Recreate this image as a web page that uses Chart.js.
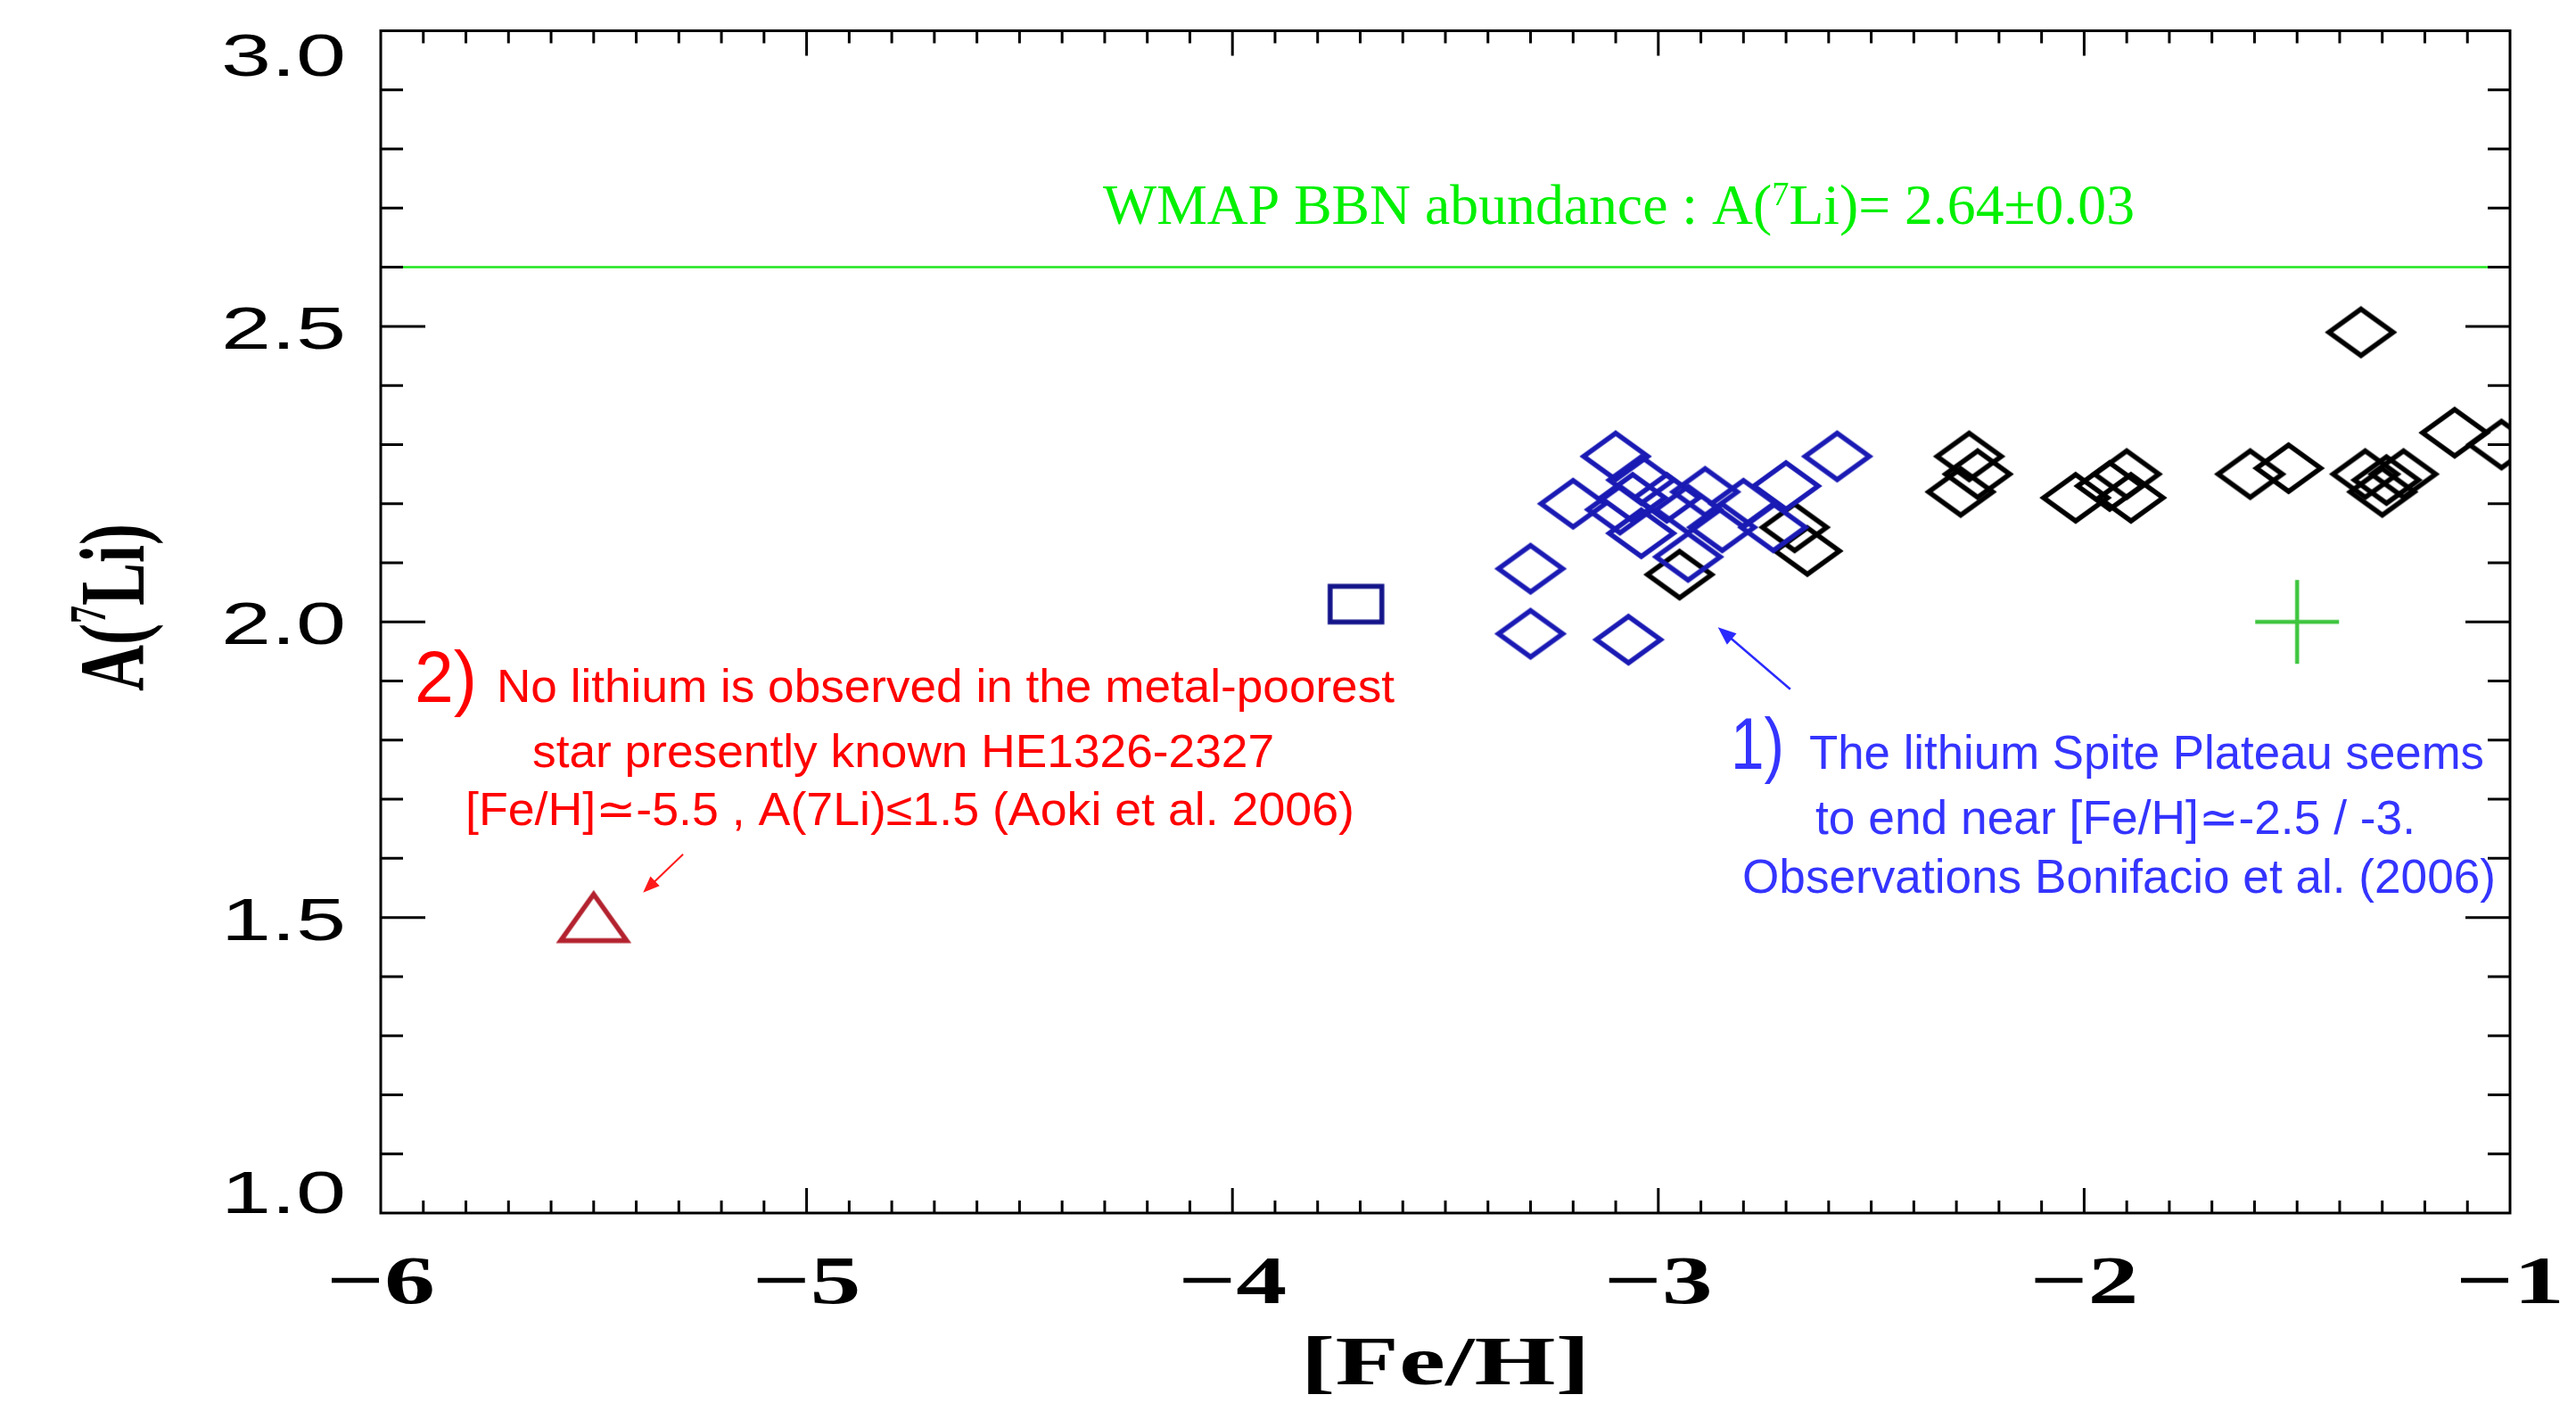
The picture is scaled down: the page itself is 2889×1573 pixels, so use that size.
<!DOCTYPE html>
<html>
<head>
<meta charset="utf-8">
<script src="https://cdn.jsdelivr.net/npm/chart.js@4.4.1/dist/chart.umd.min.js"></script>
<style>
    html, body { margin: 0; padding: 0; background: #fff; }
    canvas { display: block; }
</style>
</head>
<body>
<canvas id="chart" width="2889" height="1573"></canvas>
<script>
// Bonifacio et al. (2006) stars, [Fe/H] and A(7Li)
const bonifacioFeH = [-3.30, -3.30, -3.07, -3.20, -3.10, -2.58, -2.70, -3.04, -3.09, -3.04, -2.98, -2.89, -2.93, -2.85, -2.93, -2.73, -2.80, -3.06];
const bonifacioLi  = [ 2.09,  1.98,  1.97,  2.20,  2.28,  2.28,  2.23,  2.24,  2.19,  2.15,  2.21,  2.22,  2.19,  2.16,  2.11,  2.16,  2.20,  2.21];

// Spite plateau stars (black)
const plateauFeH = [-2.95, -2.65, -2.68, -2.27, -2.25, -2.29, -2.02, -1.94, -1.90, -1.89, -1.61, -1.52, -1.34, -1.30, -1.25, -1.29, -1.35, -1.13, -1.02];
const plateauLi  = [ 2.08,  2.12,  2.16,  2.28,  2.25,  2.22,  2.21,  2.23,  2.25,  2.21,  2.25,  2.26,  2.25,  2.22,  2.25,  2.24,  2.49,  2.32,  2.30];

const squareFeH = [-3.71];
const squareLi = [2.03];
const he1326FeH = [-5.50];
const he1326Li = [1.50];
const crossFeH = [-1.50];
const crossLi = [2.00];

// WMAP BBN level as drawn
const bbnFeH = [-6, -1];
const bbnLi = [2.6, 2.6];

const xTicks = [-6, -5, -4, -3, -2, -1];
const xTickLabels = ['\u22126', '\u22125', '\u22124', '\u22123', '\u22122', '\u22121'];
const yTicks = [1.0, 1.5, 2.0, 2.5, 3.0];
const yTickLabels = ['1.0', '1.5', '2.0', '2.5', '3.0'];

// annotation arrows: [fromFeH, fromLi, toFeH, toLi]
const blueArrow = [-2.69, 1.886, -2.86, 1.991];
const redArrow = [-5.29, 1.607, -5.384, 1.542];

const pts = (xs, ys) => xs.map((v, i) => ({ x: v, y: ys[i] }));

// marker sprites (hollow, slightly wide like the original plot)
function sprite(w, h, draw) {
    const c = document.createElement('canvas');
    c.width = w;
    c.height = h;
    draw(c.getContext('2d'), w / 2, h / 2);
    return c;
}
function diamond(color) {
    return sprite(92, 68, (g, cx, cy) => {
        g.strokeStyle = color;
        g.lineWidth = 5.5;
        g.beginPath();
        g.moveTo(cx, cy - 26);
        g.lineTo(cx + 36, cy);
        g.lineTo(cx, cy + 26);
        g.lineTo(cx - 36, cy);
        g.closePath();
        g.stroke();
    });
}
const squareMark = sprite(72, 54, (g, cx, cy) => {
    g.strokeStyle = '#14148a';
    g.lineWidth = 5.5;
    g.strokeRect(cx - 29, cy - 20, 58, 40);
});
const triangleMark = sprite(92, 72, (g, cx, cy) => {
    g.strokeStyle = '#b3222e';
    g.lineWidth = 5.5;
    g.beginPath();
    g.moveTo(cx, cy - 26);
    g.lineTo(cx + 37, cy + 26);
    g.lineTo(cx - 37, cy + 26);
    g.closePath();
    g.stroke();
});
const crossMark = sprite(100, 100, (g, cx, cy) => {
    g.strokeStyle = '#3ec53e';
    g.lineWidth = 4.5;
    g.beginPath();
    g.moveTo(cx - 47, cy);
    g.lineTo(cx + 47, cy);
    g.moveTo(cx, cy - 47);
    g.lineTo(cx, cy + 47);
    g.stroke();
});

// draw a run of [text, font, raise] pieces, squeezed/stretched to a target width
function drawRich(ctx, pieces, color, x, y, width, align) {
    let total = 0;
    pieces.forEach(p => { ctx.font = p[1]; total += ctx.measureText(p[0]).width; });
    const sx = width ? width / total : 1;
    ctx.save();
    ctx.fillStyle = color;
    ctx.textBaseline = 'alphabetic';
    ctx.textAlign = 'left';
    ctx.translate(x, y);
    ctx.scale(sx, 1);
    let cur = align === 'center' ? -total / 2 : 0;
    pieces.forEach(p => {
        ctx.font = p[1];
        ctx.fillText(p[0], cur, -(p[2] || 0));
        cur += ctx.measureText(p[0]).width;
    });
    ctx.restore();
}

function arrow(ctx, x, y, a, color, width, head) {
    const x0 = x.getPixelForValue(a[0]), y0 = y.getPixelForValue(a[1]);
    const x1 = x.getPixelForValue(a[2]), y1 = y.getPixelForValue(a[3]);
    const ang = Math.atan2(y1 - y0, x1 - x0);
    ctx.save();
    ctx.strokeStyle = color;
    ctx.fillStyle = color;
    ctx.lineWidth = width;
    ctx.beginPath();
    ctx.moveTo(x0, y0);
    ctx.lineTo(x1 - Math.cos(ang) * head * 0.6, y1 - Math.sin(ang) * head * 0.6);
    ctx.stroke();
    ctx.beginPath();
    ctx.moveTo(x1, y1);
    ctx.lineTo(x1 - head * Math.cos(ang - 0.38), y1 - head * Math.sin(ang - 0.38));
    ctx.lineTo(x1 - head * Math.cos(ang + 0.38), y1 - head * Math.sin(ang + 0.38));
    ctx.closePath();
    ctx.fill();
    ctx.restore();
}

const SANS = '"Liberation Sans", "DejaVu Sans", sans-serif';
const SERIF = '"Liberation Serif", "DejaVu Serif", serif';

// IDL style box: frame, inward ticks on all four sides, labels
const idlFrame = {
    id: 'idlFrame',
    beforeDraw(chart) {
        const { ctx, width, height } = chart;
        ctx.save();
        ctx.fillStyle = '#fff';
        ctx.fillRect(0, 0, width, height);
        ctx.restore();
    },
    afterDatasetsDraw(chart) {
        const { ctx, chartArea: a, scales: { x, y } } = chart;
        ctx.save();
        ctx.strokeStyle = '#000';
        ctx.lineWidth = 3;
        ctx.strokeRect(a.left, a.top, a.right - a.left, a.bottom - a.top);

        ctx.beginPath();
        const nx = Math.round((x.max - x.min) / 0.1);
        for (let i = 1; i < nx; i++) {
            const px = x.getPixelForValue(x.min + i * 0.1);
            const len = i % 10 === 0 ? 28 : 14;
            ctx.moveTo(px, a.bottom); ctx.lineTo(px, a.bottom - len);
            ctx.moveTo(px, a.top); ctx.lineTo(px, a.top + len);
        }
        const ny = Math.round((y.max - y.min) / 0.1);
        for (let i = 1; i < ny; i++) {
            const py = y.getPixelForValue(y.min + i * 0.1);
            const len = i % 5 === 0 ? 50 : 25;
            ctx.moveTo(a.left, py); ctx.lineTo(a.left + len, py);
            ctx.moveTo(a.right, py); ctx.lineTo(a.right - len, py);
        }
        ctx.stroke();
        ctx.restore();

        arrow(ctx, x, y, blueArrow, '#2a2aff', 2.5, 22);
        arrow(ctx, x, y, redArrow, '#ff1a1a', 2, 20);
    },
    afterDraw(chart) {
        const { ctx, chartArea: a, scales: { x, y } } = chart;

        // x tick labels, bold serif, widened
        xTicks.forEach((v, i) => {
            const px = x.getPixelForValue(v);
            ctx.save();
            ctx.translate(px, 1461);
            ctx.scale(1.48, 1);
            ctx.font = `bold 77px ${SERIF}`;
            ctx.fillStyle = '#000';
            ctx.textAlign = 'center';
            ctx.fillText(xTickLabels[i], 0, 0);
            ctx.restore();
        });

        // y tick labels, wide sans
        ctx.save();
        ctx.font = `66px ${SANS}`;
        const ysx = 140 / ctx.measureText('2.0').width;
        ctx.restore();
        yTicks.forEach((v, i) => {
            const py = y.getPixelForValue(v);
            const base = Math.min(Math.max(py + 25, a.top + 50), a.bottom);
            ctx.save();
            ctx.translate(388, base);
            ctx.scale(ysx, 1);
            ctx.font = `66px ${SANS}`;
            ctx.fillStyle = '#000';
            ctx.textAlign = 'right';
            ctx.fillText(yTickLabels[i], 0, 0);
            ctx.restore();
        });

        // axis titles
        ctx.save();
        ctx.translate((a.left + a.right) / 2, 1552);
        ctx.scale(1.5, 1);
        ctx.font = `bold 78px ${SERIF}`;
        ctx.fillStyle = '#000';
        ctx.textAlign = 'center';
        ctx.fillText('[Fe/H]', 0, 0);
        ctx.restore();

        ctx.save();
        ctx.translate(161, 681);
        ctx.scale(1.45, 1);
        ctx.rotate(-Math.PI / 2);
        drawRich(ctx, [
            ['A(', `bold 72px ${SERIF}`],
            ['7', `bold 40px ${SERIF}`, 30],
            ['Li)', `bold 72px ${SERIF}`],
        ], '#000', 0, 0, 0, 'center');
        ctx.restore();

        // WMAP label
        drawRich(ctx, [
            ['WMAP BBN abundance : A(', `63px ${SERIF}`],
            ['7', `38px ${SERIF}`, 21],
            ['Li)= 2.64\u00b10.03', `63px ${SERIF}`],
        ], '#00f000', 1237, 251, 1157);

        // 2) note, red
        drawRich(ctx, [['2)', `82px ${SANS}`]], '#ff0000', 465, 787, 70);
        drawRich(ctx, [['No lithium is observed in the metal-poorest', `52px ${SANS}`]], '#ff0000', 557, 787, 1007);
        drawRich(ctx, [['star presently known HE1326-2327', `52px ${SANS}`]], '#ff0000', 597, 860, 832);
        drawRich(ctx, [['[Fe/H]\u2243-5.5 , A(7Li)\u22641.5 (Aoki et al. 2006)', `52px ${SANS}`]], '#ff0000', 522, 925, 997);

        // 1) note, blue
        drawRich(ctx, [['1)', `82px ${SANS}`]], '#3434ff', 1941, 862, 60);
        drawRich(ctx, [['The lithium Spite Plateau seems', `54px ${SANS}`]], '#3434ff', 2029, 862, 757);
        drawRich(ctx, [['to end near [Fe/H]\u2243-2.5 / -3.', `54px ${SANS}`]], '#3434ff', 2036, 935, 673);
        drawRich(ctx, [['Observations Bonifacio et al. (2006)', `54px ${SANS}`]], '#3434ff', 1954, 1001, 845);
    },
};

const blueDiamond = diamond('#1a1ab4');
const blackDiamond = diamond('#000000');

new Chart(document.getElementById('chart'), {
    type: 'scatter',
    data: {
        datasets: [
            { label: 'Bonifacio et al. 2006', data: pts(bonifacioFeH, bonifacioLi), pointStyle: blueDiamond, pointRadius: 40 },
            { label: 'square', data: pts(squareFeH, squareLi), pointStyle: squareMark, pointRadius: 35 },
            { label: 'HE1326-2327', data: pts(he1326FeH, he1326Li), pointStyle: triangleMark, pointRadius: 40 },
            { label: 'cross', data: pts(crossFeH, crossLi), pointStyle: crossMark, pointRadius: 48 },
            { label: 'Spite plateau', data: pts(plateauFeH, plateauLi), pointStyle: blackDiamond, pointRadius: 40 },
            {
                type: 'line',
                label: 'WMAP BBN',
                data: pts(bbnFeH, bbnLi),
                borderColor: '#1ee61e',
                borderWidth: 2.5,
                pointRadius: 0,
                fill: false,
            },
        ],
    },
    options: {
        responsive: false,
        animation: false,
        events: [],
        layout: {
            autoPadding: false,
            padding: { left: 427, top: 34.5, right: 74, bottom: 213 },
        },
        scales: {
            x: { type: 'linear', min: -6, max: -1, display: false },
            y: { type: 'linear', min: 1, max: 3, display: false },
        },
        plugins: {
            legend: { display: false },
            tooltip: { enabled: false },
        },
    },
    plugins: [idlFrame],
});
</script>
</body>
</html>
